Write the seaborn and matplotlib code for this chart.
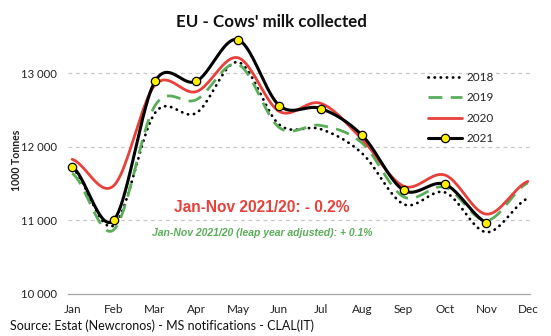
import numpy as np
import pandas as pd
import matplotlib
matplotlib.use("Agg")
import matplotlib.pyplot as plt
from matplotlib.lines import Line2D
import seaborn as sns

# Monthly EU cows' milk collection, 1000 tonnes
months = ["Jan", "Feb", "Mar", "Apr", "May", "Jun",
          "Jul", "Aug", "Sep", "Oct", "Nov", "Dec"]
milk_2018 = [11710, 10930, 12460, 12460, 13150, 12300, 12240, 11910, 11220, 11380, 10840, 11300]
milk_2019 = [11640, 10870, 12560, 12640, 13120, 12260, 12290, 12050, 11320, 11450, 11000, 11510]
milk_2020 = [11830, 11470, 12840, 12750, 13210, 12480, 12590, 12100, 11465, 11615, 11085, 11530]
milk_2021 = [11730, 11000, 12890, 12890, 13455, 12560, 12520, 12155, 11410, 11490, 10968]

y_ticks = [10000, 11000, 12000, 13000]
y_tick_labels = ["10 000", "11 000", "12 000", "13 000"]

title = "EU - Cows' milk collected"
note_main = "Jan-Nov 2021/20: - 0.2%"
note_leap = "Jan-Nov 2021/20 (leap year adjusted): + 0.1%"
source = "Source: Estat (Newcronos) - MS notifications - CLAL(IT)"

RED = "#E8403A"
GREEN = "#5AAE5A"
GRID = "#C8C8C8"
AXIS = "#A6A6A6"


def smooth(values, steps=24):
    """Catmull-Rom curve through the monthly values (spreadsheet-style smoothed line)."""
    v = np.asarray(values, dtype=float)
    p = np.concatenate([[v[0]], v, [v[-1]]])
    xs, ys = [], []
    for i in range(len(v) - 1):
        t = np.linspace(0, 1, steps, endpoint=False)
        p0, p1, p2, p3 = p[i], p[i + 1], p[i + 2], p[i + 3]
        m1, m2 = (p2 - p0) / 2, (p3 - p1) / 2
        h00 = 2 * t**3 - 3 * t**2 + 1
        h10 = t**3 - 2 * t**2 + t
        h01 = -2 * t**3 + 3 * t**2
        h11 = t**3 - t**2
        xs.append(i + t)
        ys.append(h00 * p1 + h10 * m1 + h01 * p2 + h11 * m2)
    xs.append([len(v) - 1])
    ys.append([v[-1]])
    return pd.DataFrame({"x": np.concatenate(xs), "y": np.concatenate(ys)})


sns.set_style("white")
plt.rcParams["font.family"] = ["Lato", "DejaVu Sans"]

W, H = 551, 336
fig = plt.figure(figsize=(W / 100, H / 100), dpi=100)
left_px, right_px, top_px, bottom_px = 68, 530, 29, 294
ax = fig.add_axes([left_px / W, 1 - bottom_px / H,
                   (right_px - left_px) / W, (bottom_px - top_px) / H])

c18 = smooth(milk_2018)
c19 = smooth(milk_2019)
c20 = smooth(milk_2020)
c21 = smooth(milk_2021)

sns.lineplot(data=c18, x="x", y="y", ax=ax, color="black", lw=2.0,
             linestyle=(0, (0.1, 2.1)), dash_capstyle="round", sort=False, zorder=2)
sns.lineplot(data=c19, x="x", y="y", ax=ax, color=GREEN, lw=2.0,
             linestyle=(0, (5, 3)), sort=False, zorder=3)
sns.lineplot(data=c20, x="x", y="y", ax=ax, color=RED, lw=2.0,
             sort=False, zorder=4)
sns.lineplot(data=c21, x="x", y="y", ax=ax, color="black", lw=2.2,
             sort=False, zorder=5)
sns.scatterplot(x=np.arange(len(milk_2021)), y=milk_2021, ax=ax, s=36,
                color="#FFEF00", edgecolor="black", linewidth=0.9, zorder=6,
                clip_on=False)

ax.set_xlim(-0.1, 11.05)
ax.set_ylim(10000, 13600)
ax.set_xticks(range(len(months)))
ax.set_xticklabels(months)
ax.set_yticks(y_ticks)
ax.set_yticklabels(y_tick_labels)
ax.set_xlabel("")
ax.set_ylabel("")

for v in y_ticks[1:]:
    ax.axhline(v, color=GRID, lw=0.9, ls=(0, (3, 3)), zorder=1)

for side in ["left", "right", "top"]:
    ax.spines[side].set_visible(False)
ax.spines["bottom"].set_color(AXIS)
ax.spines["bottom"].set_linewidth(0.9)
ax.tick_params(axis="x", direction="in", length=3, width=0.9, color=AXIS,
               labelsize=8.5, pad=7, labelcolor="#222222")
ax.tick_params(axis="y", length=0, labelsize=8.2, pad=8, labelcolor="#222222")

fig.text(16 / W, 1 - 160 / H, "1000 Tonnes", rotation=90, ha="center", va="center",
         fontsize=7.6, fontweight="bold", color="#222222")
fig.text(271 / W, 1 - 22 / H, title, ha="center", va="center",
         fontsize=12.2, fontweight="bold", color="#111111")
fig.text(262 / W, 1 - 208 / H, note_main, ha="center", va="center",
         fontsize=11.2, fontweight="bold", color=RED, family="Liberation Sans")
fig.text(262 / W, 1 - 233 / H, note_leap, ha="center", va="center",
         fontsize=7.5, fontweight="bold", style="italic", color=GREEN,
         family="Liberation Sans")
fig.text(10 / W, 1 - 326 / H, source, ha="left", va="center",
         fontsize=9, color="#111111")

handles = [
    Line2D([], [], color="black", lw=2.0, linestyle=(0, (0.1, 2.1)), dash_capstyle="round"),
    Line2D([], [], color=GREEN, lw=2.0, linestyle=(0, (5, 3))),
    Line2D([], [], color=RED, lw=2.0),
    Line2D([], [], color="black", lw=2.2, marker="o", markersize=6,
           markerfacecolor="#FFEF00", markeredgecolor="black", markeredgewidth=0.9),
]
leg = ax.legend(handles, ["2018", "2019", "2020", "2021"], frameon=False,
                loc="upper left", bbox_to_anchor=(428 / W, 1 - 72 / H),
                bbox_transform=fig.transFigure, fontsize=8.5,
                handlelength=2.9, handletextpad=0.4, labelspacing=0.8,
                borderaxespad=0, borderpad=0)

fig.savefig("out.png", dpi=100)
